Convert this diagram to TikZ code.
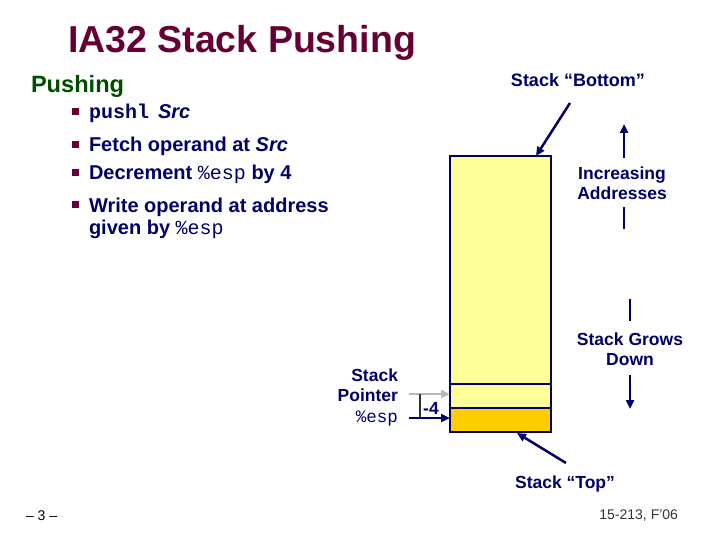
\documentclass[tikz,border=0pt]{standalone}
\usepackage{fontspec}
\setmainfont{Liberation Sans}
\setmonofont{Liberation Mono}
\usepackage{tikz}
\usetikzlibrary{positioning, arrows.meta, calc}
\definecolor{slidemaroon}{HTML}{660033}
\definecolor{slidegreen}{HTML}{004D00}
\definecolor{slidenavy}{HTML}{000066}
\definecolor{stackyellow}{HTML}{FFFF99}
\definecolor{stackorange}{HTML}{FFCC00}
\definecolor{pointergray}{HTML}{B8B8B8}
\definecolor{offsetgreen}{HTML}{1F3F1F}
\newcommand{\bul}{\llap{\textcolor{slidemaroon}{\rule[4pt]{7pt}{7pt}}\hspace{10pt}}}

\begin{document}
\begin{tikzpicture}[x=1pt, y=-1pt,
    every node/.style={inner sep=0pt, outer sep=0pt},
    bodytext/.style={font=\fontsize{20}{23}\selectfont\bfseries, text=slidenavy, anchor=base west, align=left},
    sidelabel/.style={font=\fontsize{17.5}{20.5}\selectfont\bfseries, text=slidenavy, align=center},
    cell/.style={draw=slidenavy, line width=2.5pt, minimum width=101pt},
    navyarrow/.style={draw=slidenavy, line width=2.5pt, -{Triangle[length=9pt, width=8pt]}},
    navyline/.style={draw=slidenavy, line width=2.5pt}]
    \useasboundingbox (0,0) rectangle (720,540);

    \node[font=\fontsize{37.5}{45}\selectfont\bfseries, text=slidemaroon, anchor=base west] (title) at (68,52.5) {IA32 Stack Pushing};
    \node[font=\fontsize{23.6}{28}\selectfont\bfseries, text=slidegreen, anchor=base west] (sub) at (31,92.5) {Pushing};

    % bullet list
    \node[bodytext] (push) at (89,119) {\bul\texttt{pushl}\hspace{9pt}\textit{Src}};
    \node[bodytext] (fetch) at (89,152) {\bul Fetch operand at \textit{Src}};
    \node[bodytext] (decr) at (89,180) {\bul Decrement \texttt{\mdseries\%esp} by 4};
    \node[bodytext] (write) at (89,235) {\bul Write operand at address\\given by \texttt{\mdseries\%esp}};

    % the stack
    \node[cell, fill=stackyellow, minimum height=228pt] (bigcell) at (500.5,270) {};
    \node[cell, fill=stackyellow, minimum height=24pt] (oldcell) at (500.5,396) {};
    \node[cell, fill=stackorange, minimum height=24pt] (newcell) at (500.5,420) {};

    \node[sidelabel, font=\fontsize{18}{21}\selectfont\bfseries] (bottomlbl) at (578,80) {Stack “Bottom”};
    \coordinate (bottomtail) at (570,103);
    \coordinate (bottomtip) at (536,156);
    \draw[navyarrow] (bottomtail) -- (bottomtip);

    \node[sidelabel] (toplbl) at (565,484) {Stack “Top”};
    \coordinate (toptail) at (566,463);
    \coordinate (toptip) at (517,433);
    \draw[navyarrow] (toptail) -- (toptip);

    \node[sidelabel] (incr) at (622,183) {Increasing\\Addresses};
    \coordinate (incrhead) at (624,124);
    \coordinate (incrtail) at (624,158);
    \coordinate (incrlow) at (624,207);
    \coordinate (incrend) at (624,229);
    \draw[navyarrow] (incrtail) -- (incrhead);
    \draw[navyline] (incrlow) -- (incrend);

    \node[sidelabel] (grows) at (630,349) {Stack Grows\\Down};
    \coordinate (growsup) at (630,299);
    \coordinate (growsmid) at (630,321);
    \coordinate (growstail) at (630,375);
    \coordinate (growshead) at (630,409);
    \draw[navyline] (growsup) -- (growsmid);
    \draw[navyarrow] (growstail) -- (growshead);

    % stack pointer
    \node[sidelabel, align=right, anchor=base east] (splbl) at (398,422) {Stack\\Pointer\\\texttt{\mdseries\%esp}};
    \coordinate (oldtail) at (409,394);
    \coordinate (newtail) at (409,418);
    \draw[draw=pointergray, line width=2.5pt, -{Triangle[length=9pt, width=8pt]}] (oldtail) -- (oldtail -| oldcell.west);
    \draw[navyarrow] (newtail) -- (newtail -| newcell.west);
    \draw[offsetgreen, line width=1.5pt] ($(oldtail)+(11,0)$) -- ($(newtail)+(11,0)$);
    \node[sidelabel] (offset) at (431,408) {-4};

    \node[font=\fontsize{14}{16}\selectfont, anchor=base west] (pagenum) at (26,520) {– 3 –};
    \node[font=\fontsize{14}{16}\selectfont, text=black!80, anchor=base east] (course) at (678,519) {15-213, F’06};
\end{tikzpicture}
\end{document}
